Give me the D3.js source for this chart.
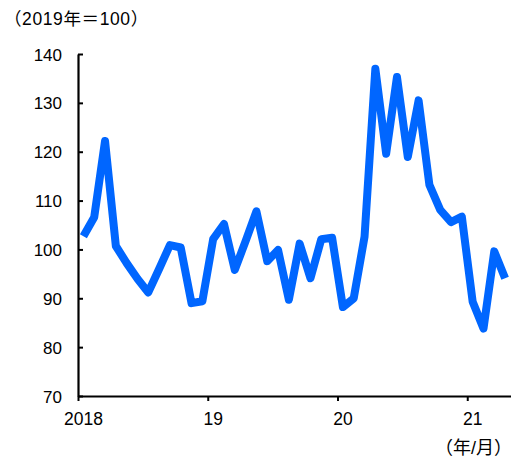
<!DOCTYPE html>
<html>
<head>
<meta charset="utf-8">
<script src="https://cdn.jsdelivr.net/npm/d3@7"></script>
<style>
  html, body { margin: 0; padding: 0; background: #fff; }
  svg { display: block; }
  text { font-family: "Liberation Sans", Arial, "Noto Sans CJK JP", sans-serif; fill: #000; }
</style>
</head>
<body>
<svg id="chart" width="511" height="459"></svg>
<script>
// Monthly index, Jan 2018 – Apr 2021 (2019 average = 100)
const indexValues = [
  102.7, 106.6, 122.2, 100.7, 97.2, 94.0, 91.2, 96.0, 100.9, 100.4, 89.0, 89.4,
  102.1, 105.2, 95.8, 101.7, 107.8, 97.6, 99.9, 89.7, 101.2, 94.1, 102.1, 102.4,
  88.2, 90.0, 102.6, 137.0, 119.6, 135.3, 118.9, 130.5, 113.2, 108.1, 105.6, 106.7,
  89.3, 83.8, 99.6, 94.1
];
const yTicks = [70, 80, 90, 100, 110, 120, 130, 140];
const xTickMonths = [0, 12, 24, 36];
const xTickLabels = ["2018", "19", "20", "21"];
const unitLabel = "（2019年＝100）";
const periodLabel = "（年/月）";

const svg = d3.select("#chart");
const plotLeft = 78, plotRight = 510.5, plotTop = 54, plotBottom = 396;

const x = d3.scaleLinear().domain([0, indexValues.length]).range([plotLeft, plotRight]);
const y = d3.scaleLinear().domain([70, 140]).range([plotBottom, plotTop]);

// Y axis: inward ticks, labels to the left
const yAxis = svg.append("g")
  .attr("transform", `translate(${plotLeft},0)`)
  .call(d3.axisLeft(y).tickValues(yTicks).tickSizeInner(-5).tickSizeOuter(0).tickPadding(16));
yAxis.select(".domain").attr("stroke", "#000").attr("stroke-width", 2.2);
yAxis.selectAll(".tick line").attr("stroke", "#000").attr("stroke-width", 2);
yAxis.selectAll(".tick text")
  .attr("font-size", 17)
  .attr("dy", "0.36em")
  .style("font-family", "Liberation Sans, Arial, sans-serif");

// X axis: year boundaries with downward ticks
const xAxis = svg.append("g")
  .attr("transform", `translate(0,${plotBottom})`)
  .call(d3.axisBottom(x).tickValues(xTickMonths).tickSizeInner(5).tickSizeOuter(0).tickFormat(() => ""));
xAxis.select(".domain").attr("stroke", "#000").attr("stroke-width", 2.2);
xAxis.selectAll(".tick line").attr("stroke", "#000").attr("stroke-width", 2);

// Year labels sit over January of each year
svg.append("g").selectAll("text")
  .data(xTickMonths)
  .join("text")
  .attr("x", (d) => x(d + 0.5))
  .attr("y", 424.5)
  .attr("text-anchor", "middle")
  .attr("font-size", 17.5)
  .text((d, i) => xTickLabels[i]);

// Index line
const line = d3.line()
  .x((d, i) => x(i + 0.5))
  .y((d) => y(d));

svg.append("path")
  .datum(indexValues)
  .attr("fill", "none")
  .attr("stroke", "#0066ff")
  .attr("stroke-width", 8)
  .attr("stroke-linejoin", "round")
  .attr("stroke-linecap", "butt")
  .attr("d", line);

// Unit and period labels
svg.append("text")
  .attr("x", 4)
  .attr("y", 25)
  .attr("font-size", 17.5)
  .attr("letter-spacing", 0.6)
  .text(unitLabel);

svg.append("text")
  .attr("x", 512)
  .attr("y", 454)
  .attr("text-anchor", "end")
  .attr("font-size", 18)
  .text(periodLabel);
</script>
</body>
</html>
